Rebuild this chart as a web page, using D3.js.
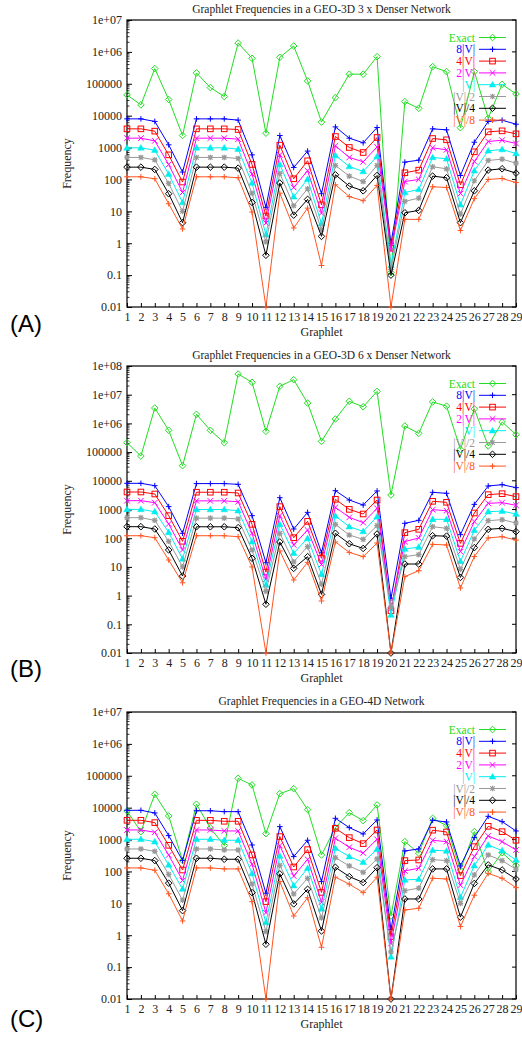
<!DOCTYPE html>
<html><head><meta charset="utf-8">
<script src="https://cdn.jsdelivr.net/npm/d3@7"></script>
<style>body{margin:0;background:#fff}svg{display:block}</style>
</head><body><script>
const graphlets = [1,2,3,4,5,6,7,8,9,10,11,12,13,14,15,16,17,18,19,20,21,22,23,24,25,26,27,28,29];
const seriesNames = ["Exact","8|V|","4|V|","2|V|","|V|","|V|/2","|V|/4","|V|/8"];
const seriesColors = ["#22dd22","#0000ff","#ff0000","#ff00ff","#00eeee","#999999","#000000","#ff5522"];
const seriesMarkers = ["diamond","plus","square","cross","triangle","star","diamond","plus"];

// Panel A: GEO-3D 3 x denser
const aExact = [44800,21800,300000,32000,2390,219000,76000,39800,1900000,630000,2820,676000,1530000,123000,6300,36700,200000,200000,710000,0.12,27500,17000,344000,240000,4200,240000,8300,96000,48000];
const aV8 = [7940,7940,6600,1220,170,7940,7940,7940,7250,590,13.3,2390,238,775,35.6,4450,1970,1410,4260,1.0,349,403,3860,3600,133,1470,6600,7200,5400];
const aV4 = [3860,3860,3270,590,83,3860,3860,3860,3680,295,7.1,1190,105,385,16,2220,1005,700,2070,0.7,162,196,1920,1750,68,735,3110,3340,2690];
const aV2 = [1970,1970,1620,295,39,1970,1970,1970,1830,147,4.3,590,56,187,8.8,1130,490,357,1050,0.6,86,100,980,850,36,365,1550,1700,1340];
const aV1 = [980,980,830,147,19,980,980,980,890,77,1.85,295,28.6,102,4.1,565,255,178,525,0.2,39,48.6,490,444,16,187,790,870,650];
const aVh = [490,490,413,75,10,490,490,490,455,37,1.1,154,15,51,2.65,274,127,86,274,0.15,20.5,26,250,216,8.2,91,394,433,325];
const aVq = [243,243,206,35.6,4.4,243,243,243,226,19,0.42,77,7.6,23.7,1.64,140,61.8,44,133,0.1,9,10.7,127,113,4.4,44,196,216,158];
const aVe = [121,121,105,17.3,2.8,121,121,121,113,9.5,0.01,37,3,12.6,0.2,68,29,21.5,65,0.01,5.6,5.6,59,56,2.5,25,100,107,80];

// Panel B: GEO-3D 6 x denser
const bExact = [213000,73000,3440000,575000,33600,2070000,575000,213000,52600000,27000000,530000,19600000,33400000,5100000,237000,1420000,5900000,3800000,13000000,3200,810000,450000,5600000,4000000,125000,3200000,163000,1120000,405000];
const bV8 = [8170,8170,6760,1260,148,8000,8000,8000,7530,610,14,2580,209,796,31,4530,2140,1430,4420,0.8,330,420,3960,3660,133,1510,6590,7330,5770];
const bV4 = [4070,4070,3470,610,78,4000,4000,4000,3760,304,6.6,1260,104,387,20,2260,1010,697,2140,0.3,156,204,1930,1780,66,755,3290,3560,2800];
const bV2 = [2030,2030,1730,313,39,2000,2000,2000,1870,148,3.7,610,58,193,12,1190,533,348,1100,0.35,76,102,986,910,34,377,1640,1730,1400];
const bV1 = [1010,1010,840,160,19,1000,1000,1000,910,76,2.34,304,30,99,5.5,594,252,173,562,0.21,42,49,454,454,15.6,188,840,880,697];
const bVh = [519,519,420,78,10,500,500,500,467,39,1.4,148,15,51,2.5,304,129,91,274,0.4,22.7,26.7,252,221,8.2,94,408,443,339];
const bVq = [252,252,209,39,4.8,250,250,250,233,19.9,0.5,74,8.9,22.7,1.1,148,64,44,140,0.01,12.6,12.6,122,118,4.3,47,204,221,169];
const bVe = [122,122,104,17.4,2.8,122,122,122,113,10,0.01,36,3.5,14.4,0.65,74,32,22.7,68,0.01,4.6,7.4,61,58,1.84,23,102,113,86];

// Panel C: GEO-4D
const cExact = [7890,1770,26200,5500,219,12800,2300,650,83000,51500,1530,27500,39500,8700,329,2370,6980,3930,12200,4.0,860,375,4640,2730,111,1770,96,390,155];
const cV8 = [8260,8260,6820,1330,219,8000,8000,7500,7500,677,20.7,2540,292,950,48,4640,2370,1500,4110,1.5,440,507,4020,3560,149,1150,5360,3650,1860];
const cV4 = [4020,4020,3400,660,111,4000,4000,3740,3740,329,11.3,1240,138,483,22,2250,1150,745,2000,0.9,219,229,1970,1730,74,600,2600,1770,950];
const cV2 = [2000,2000,1690,329,52,2000,2000,1860,1860,168,5.1,645,72,240,10.8,1100,573,380,1020,0.55,104,126,950,860,37,292,1300,860,472];
const cV1 = [1020,1020,860,160,28,1020,1020,950,950,86,2.5,306,36,126,6.7,532,292,194,496,0.21,54,57,461,440,15.5,152,677,450,229];
const cVh = [507,507,429,81,12.5,507,507,472,472,40.5,1.3,156,19.7,61,3.5,272,149,94,247,0.3,25,30,235,219,10,78,329,219,117];
const cVq = [259,259,219,43,5.9,259,259,241,241,21.7,0.52,84,9.6,27.6,1.36,135,69,45,131,0.01,13.7,13.7,120,120,3.7,42,160,111,58];
const cVe = [129,129,109,20,2.8,129,129,120,120,11.3,0.01,48,4.0,15,0.42,66,40,21.7,66,0.01,6.2,7,61,58,1.87,18,87,61,31];

const yTicks7 = [1e7,1e6,1e5,1e4,1e3,100,10,1,0.1,0.01];
const yLabels7 = ["1e+07","1e+06","100000","10000","1000","100","10","1","0.1","0.01"];
const yTicks8 = [1e8,1e7,1e6,1e5,1e4,1e3,100,10,1,0.1,0.01];
const yLabels8 = ["1e+08","1e+07","1e+06","100000","10000","1000","100","10","1","0.1","0.01"];
const titles = ["Graphlet Frequencies in a GEO-3D 3 x Denser Network",
                "Graphlet Frequencies in a GEO-3D 6 x Denser Network",
                "Graphlet Frequencies in a GEO-4D Network"];
const panelLabels = ["(A)","(B)","(C)"];
const xLabel = "Graphlet", yLabel = "Frequency";

const panels = [
  {top:20, bottom:307, max:1e7, ticks:yTicks7, labels:yLabels7, series:[aExact,aV8,aV4,aV2,aV1,aVh,aVq,aVe]},
  {top:366, bottom:653, max:1e8, ticks:yTicks8, labels:yLabels8, series:[bExact,bV8,bV4,bV2,bV1,bVh,bVq,bVe]},
  {top:712, bottom:999, max:1e7, ticks:yTicks7, labels:yLabels7, series:[cExact,cV8,cV4,cV2,cV1,cVh,cVq,cVe]}
];

const W = 522, H = 1038;
const left = 127, right = 516;
const serif = "'Liberation Serif','DejaVu Serif',serif";
const svg = d3.select("body").append("svg").attr("width",W).attr("height",H);

function marker(g, type, x, y, color){
  const s = 2.8;
  if(type==="diamond"){
    g.append("path").attr("d",`M${x},${y-s-0.5}L${x+s+0.5},${y}L${x},${y+s+0.5}L${x-s-0.5},${y}Z`)
     .attr("fill","none").attr("stroke",color).attr("stroke-width",1);
  } else if(type==="plus"){
    g.append("path").attr("d",`M${x-s},${y}H${x+s}M${x},${y-s}V${y+s}`).attr("stroke",color).attr("stroke-width",1);
  } else if(type==="square"){
    g.append("rect").attr("x",x-s).attr("y",y-s).attr("width",2*s).attr("height",2*s)
     .attr("fill","none").attr("stroke",color).attr("stroke-width",1);
  } else if(type==="cross"){
    g.append("path").attr("d",`M${x-s},${y-s}L${x+s},${y+s}M${x-s},${y+s}L${x+s},${y-s}`).attr("stroke",color).attr("stroke-width",1);
  } else if(type==="triangle"){
    g.append("path").attr("d",`M${x},${y-s-0.5}L${x+s+0.5},${y+s-0.5}L${x-s-0.5},${y+s-0.5}Z`).attr("fill",color).attr("stroke",color).attr("stroke-width",0.5);
  } else if(type==="star"){
    g.append("path").attr("d",`M${x-s},${y}H${x+s}M${x},${y-s}V${y+s}M${x-s+0.6},${y-s+0.6}L${x+s-0.6},${y+s-0.6}M${x-s+0.6},${y+s-0.6}L${x+s-0.6},${y-s+0.6}`).attr("stroke",color).attr("stroke-width",1.2);
  }
}

panels.forEach((p, pi) => {
  const x = d3.scaleLinear().domain([1,29]).range([left,right]);
  const y = d3.scaleLog().domain([0.01,p.max]).range([p.bottom,p.top]).clamp(true);
  const g = svg.append("g");

  g.append("text").attr("x",(left+right)/2).attr("y",p.top-7).attr("text-anchor","middle")
   .attr("font-family",serif).attr("font-size",11.5).attr("fill","#222").text(titles[pi]);

  const yAxis = d3.axisLeft(y).tickValues(p.ticks).tickFormat((d,i)=>p.labels[i]).tickSizeInner(-5).tickSizeOuter(0).tickPadding(5);
  const ya = g.append("g").attr("transform",`translate(${left},0)`).call(yAxis);
  ya.select(".domain").remove();
  ya.selectAll("text").attr("font-family",serif).attr("font-size",12).attr("fill","#222");
  ya.selectAll("line").attr("stroke","#000");
  const minors = [];
  p.ticks.forEach(t => { if(t < p.max){ for(let k=2;k<=9;k++) minors.push(t*k); } });
  g.append("g").selectAll("line").data(minors).join("line")
   .attr("x1",left).attr("x2",left+2.5).attr("y1",d=>y(d)).attr("y2",d=>y(d)).attr("stroke","#000").attr("stroke-width",0.8);
  g.append("g").selectAll("line").data(p.ticks).join("line")
   .attr("x1",right).attr("x2",right-4).attr("y1",d=>y(d)).attr("y2",d=>y(d)).attr("stroke","#000");

  const xAxis = d3.axisBottom(x).tickValues(graphlets).tickFormat(d=>String(d)).tickSizeInner(-4).tickSizeOuter(0).tickPadding(5);
  const xa = g.append("g").attr("transform",`translate(0,${p.bottom})`).call(xAxis);
  xa.select(".domain").remove();
  xa.selectAll("text").attr("font-family",serif).attr("font-size",12).attr("fill","#222");
  xa.selectAll("line").attr("stroke","#000");

  g.append("rect").attr("x",left).attr("y",p.top).attr("width",right-left).attr("height",p.bottom-p.top)
   .attr("fill","none").attr("stroke","#000").attr("stroke-width",1.2);

  g.append("text").attr("x",(left+right)/2).attr("y",p.bottom+29).attr("text-anchor","middle")
   .attr("font-family",serif).attr("font-size",12).attr("fill","#222").text(xLabel);
  g.append("text").attr("transform",`translate(71,${(p.top+p.bottom)/2}) rotate(-90)`).attr("text-anchor","middle")
   .attr("font-family",serif).attr("font-size",12).attr("fill","#222").text(yLabel);

  const line = d3.line().x((d,i)=>x(graphlets[i])).y(d=>y(d));
  p.series.forEach((vals, si) => {
    const sg = g.append("g");
    sg.append("path").datum(vals).attr("d",line).attr("fill","none").attr("stroke",seriesColors[si]).attr("stroke-width",1);
    vals.forEach((v,i)=> marker(sg, seriesMarkers[si], x(graphlets[i]), y(v), seriesColors[si]));
  });

  const lg = g.append("g");
  seriesNames.forEach((n, si) => {
    const ly = p.top + 17.5 + si*11.8;
    lg.append("text").attr("x",475).attr("y",ly+4).attr("text-anchor","end")
      .attr("font-family",serif).attr("font-size",11.5).attr("fill",seriesColors[si]).text(n);
    lg.append("line").attr("x1",479).attr("x2",506).attr("y1",ly).attr("y2",ly).attr("stroke",seriesColors[si]).attr("stroke-width",1);
    marker(lg, seriesMarkers[si], 492.5, ly, seriesColors[si]);
  });

  svg.append("text").attr("x",10).attr("y",[332,677,1027][pi]).attr("font-family","'Liberation Sans',Arial,sans-serif")
    .attr("font-size",24).attr("fill","#000").text(panelLabels[pi]);
});
</script></body></html>
